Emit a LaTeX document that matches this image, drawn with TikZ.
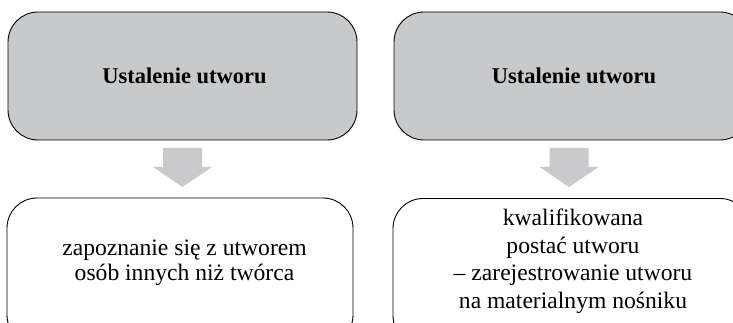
\documentclass[tikz,border=0pt]{standalone}
\usepackage{fontspec}
\setmainfont{Liberation Serif}
\usetikzlibrary{calc}
\definecolor{boxgray}{HTML}{C8C9CB}
\definecolor{arrgray}{HTML}{C9CACC}
\begin{document}
\begin{tikzpicture}[x=1pt,y=1pt,
  box/.style={draw=black, line width=0.9pt, rounded corners=30pt, inner sep=0pt},
  topbox/.style={box, fill=boxgray, minimum height=128pt},
  botbox/.style={box, fill=white, minimum height=147pt},
  txt/.style={font=\fontsize{23.6}{25}\selectfont, align=center, inner sep=0pt},
  txtb/.style={font=\fontsize{23.6}{27.5}\selectfont, align=center, inner sep=0pt},
  headtxt/.style={txt, font=\fontsize{22.5}{24.5}\selectfont\bfseries},
  blockarrow/.style={fill=arrgray}]
\useasboundingbox (0,0) rectangle (733,-323);
\clip (0,0) rectangle (733,-323);
\node[topbox, minimum width=349pt] (t1) at (182.5,-76) {};
\node[topbox, minimum width=356pt] (t2) at (572,-76) {};
\node[botbox, minimum width=346pt] (b1) at (180,-271.5) {};
\node[botbox, minimum width=357pt] (b2) at (571.5,-272) {};
\node[headtxt] (l1) at (184.5,-76) {Ustalenie utworu};
\node[headtxt] (l2) at (574,-76) {Ustalenie utworu};
\node[txt] (l3) at (184.5,-263) {zapoznanie się z utworem\\osób innych niż twórca};
\node[txtb] (l4) at (573,-261) {kwalifikowana\\postać utworu\\– zarejestrowanie utworu\\na materialnym nośniku};
\coordinate (a1) at (182.5,-148);
\coordinate (a2) at (569,-148);
\foreach \a in {a1,a2}{
  \fill[blockarrow] ($(\a)+(-19.5,0)$) -- ($(\a)+(19.5,0)$) -- ($(\a)+(19.5,-19)$) -- ($(\a)+(29.5,-19)$) -- ($(\a)+(0,-39)$) -- ($(\a)+(-29.5,-19)$) -- ($(\a)+(-19.5,-19)$) -- cycle;
}
\end{tikzpicture}
\end{document}
